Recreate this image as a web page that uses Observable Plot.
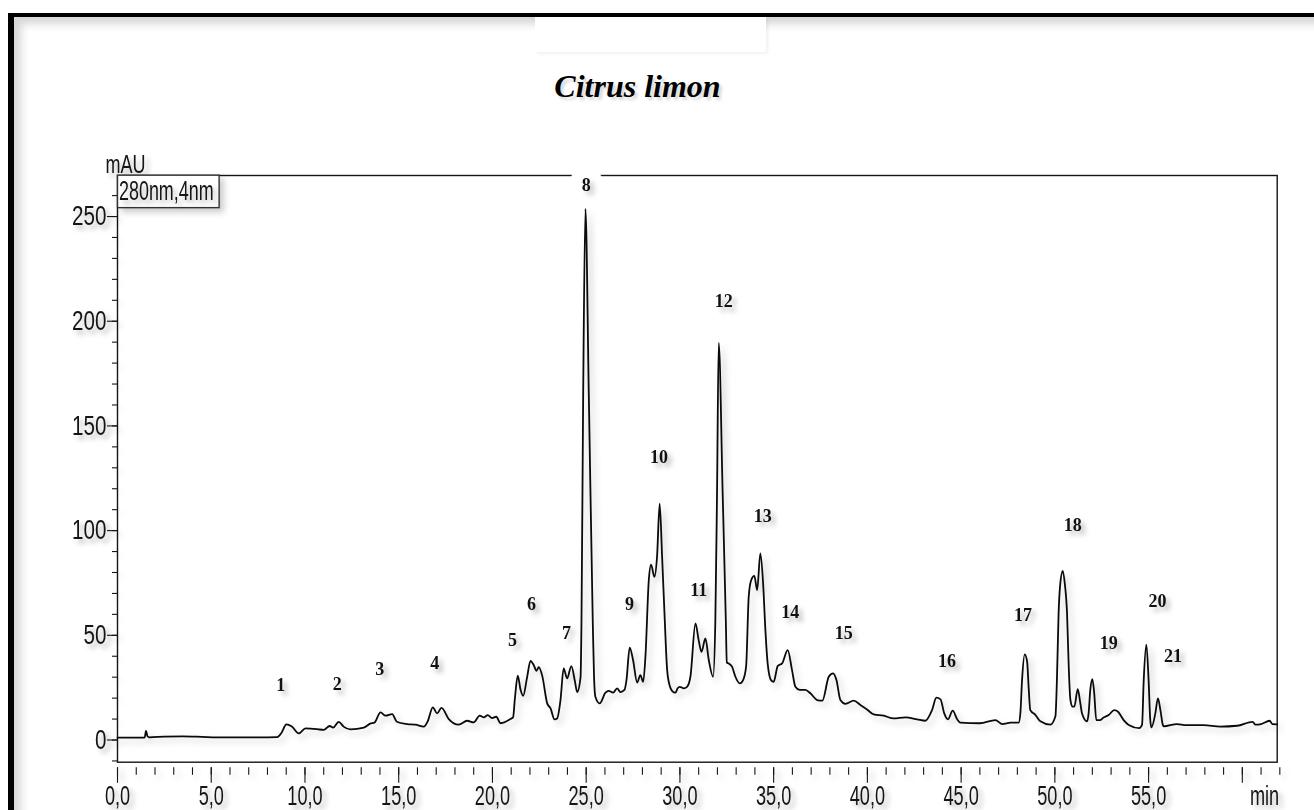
<!DOCTYPE html>
<html><head><meta charset="utf-8">
<script src="https://cdn.jsdelivr.net/npm/d3@7"></script>
<script src="https://cdn.jsdelivr.net/npm/@observablehq/plot@0.6"></script>
<style>
body{margin:0;background:#fff;width:1314px;height:810px;overflow:hidden;position:relative;}
#border{position:absolute;left:8px;top:13px;width:1400px;height:900px;border-left:6px solid #000;border-top:4px solid #000;box-shadow:inset 7px 7px 9px rgba(0,0,0,0.16);}
#patch{position:absolute;left:535px;top:17px;width:231px;height:35px;background:#fff;box-shadow:2px 2px 3px rgba(0,0,0,0.06);}
#title{position:absolute;left:0;top:70px;width:1275px;text-align:center;font:italic bold 32px "Liberation Serif","Times New Roman",serif;line-height:1;color:#000;text-shadow:3px 3px 3px rgba(0,0,0,0.15);}
#chart{position:absolute;left:0;top:0;}
</style></head><body>
<div id="border"></div><div id="patch"></div>
<div id="title">Citrus limon</div>
<div id="chart"></div>
<script>
// retention time (min) and absorbance (mAU)
const time = [0,1.45,1.52,1.6,1.7,2.5,3.5,4.5,5.3,6.5,7.5,8.52,8.75,9.01,9.3,9.67,10.03,10.65,11.0,11.32,11.5,11.8,12.06,12.43,13.14,13.5,13.7,14.03,14.3,14.65,14.9,15.45,15.9,16.34,16.55,16.82,17.05,17.28,17.67,18.2,18.65,19.0,19.32,19.54,19.75,19.98,20.2,20.44,20.96,21.1,21.2,21.35,21.5,21.64,21.85,22.03,22.2,22.35,22.47,22.66,22.92,23.1,23.31,23.45,23.63,23.8,23.98,24.21,24.4,24.52,24.7,24.75,24.84,24.96,25.14,25.35,25.42,25.49,25.72,26.03,26.2,26.44,26.65,26.83,27.04,27.15,27.32,27.5,27.72,27.89,28.04,28.16,28.34,28.46,28.64,28.78,28.92,29.05,29.17,29.32,29.46,29.58,29.76,29.88,29.99,30.2,30.38,30.56,30.83,31.0,31.15,31.36,31.54,31.77,31.89,31.98,32.07,32.28,32.45,32.5,32.6,32.78,32.96,33.19,33.37,33.53,33.67,33.8,33.97,34.12,34.29,34.44,34.56,34.68,34.86,35.0,35.22,35.45,35.75,35.98,36.16,36.39,36.69,36.96,37.32,37.6,37.94,38.17,38.35,38.56,38.83,39.27,39.63,39.98,40.34,40.87,41.4,42.03,42.65,43.09,43.45,43.68,43.9,44.1,44.3,44.55,44.79,44.96,46.0,46.83,47.2,47.64,48.07,48.16,48.25,48.39,48.52,48.6,48.69,48.96,49.23,49.76,50.03,50.11,50.2,50.29,50.42,50.53,50.65,50.74,50.83,50.95,51.04,51.22,51.36,51.45,51.72,51.8,51.89,52.0,52.1,52.21,52.42,52.6,52.87,53.17,53.37,53.67,53.94,54.5,54.65,54.74,54.88,55.0,55.09,55.15,55.36,55.5,55.63,55.76,55.8,56.52,57.0,57.94,58.82,59.72,60.55,60.7,61.0,61.46,61.6,61.86];
const absorbance = [1.1,1.2,4.4,1.8,1.3,1.6,1.7,1.5,1.3,1.3,1.3,1.4,3.5,7.5,6.4,3.2,5.6,5.2,4.8,6.7,5.9,8.7,6.4,5.1,5.9,7.9,8.3,13.2,11.6,12.4,8.7,7.6,7.3,6.4,9,15.6,12.7,15.3,10,7.3,9.2,8.4,11.6,10.8,11.9,10.5,11.1,8.0,10,10.8,20,30.7,24,21.1,30,37.8,35.8,33,34.8,30.5,17.5,15.1,9.9,10.3,19.1,34.2,29.4,35.3,28,22.9,30,57,165,253.7,165,57,30,20.7,17.5,22.6,23.5,22.6,24.7,22.9,23.9,28.6,44.1,38.2,27.4,31,27.8,39.7,76.3,83.8,77.9,87.5,112.9,87.5,62,33.4,25.8,23.5,22.6,24.7,25.4,24.7,25.4,30.2,55.7,47.7,42.1,48.5,38.2,30.2,57,118,189.6,117.7,57,37,36.6,35,30.2,27,28.6,35,68.4,76.3,78.4,71.6,89.1,74.4,52.5,36.6,28.6,27.8,35.4,36.6,42.9,33.4,25.4,23.9,23.9,22.3,19.1,18.8,30.2,31.8,28.6,19.1,17.3,18.8,16.7,14.6,12.2,11.6,10.3,10.8,9.9,9.2,14.3,20.2,19.4,12.7,9.9,14,9.9,8.3,8.0,9.5,7.6,8.3,8.3,12.7,28.6,40.9,37.5,25.4,14.3,12,8.9,7.3,11.3,28.6,60.6,74.7,80.8,74.7,60.5,35,19.1,15.9,15.9,24.3,17.5,12.7,8.9,12.7,23.9,29.1,22.3,9.5,9.5,10.7,11.9,14.3,13.5,9.5,7.2,5.7,7.2,28.6,45.6,28.6,9.5,6.0,12.7,19.9,14.3,7.2,6.5,7.6,7.1,7.1,6.4,6.8,8.7,7.3,7.6,9.2,7.6,7.5];

// peak numbers and the positions of their labels
const peakIds = [1,2,3,4,5,6,7,8,9,10,11,12,13,14,15,16,17,18,19,20,21];
const peakTime = [8.71,11.72,13.99,16.92,21.07,22.08,23.95,25.01,27.31,28.89,31.0,32.34,34.42,35.89,38.74,44.25,48.3,50.95,52.87,55.48,56.3];
const peakLabelHeight = [26.2,26.7,33.7,36.6,47.7,64.7,51.2,264.8,64.7,135.2,71.6,209.4,106.9,61.2,50.9,37.8,59.6,102.6,46.4,66.3,40.1];

// axes
const yMajorTicks = [0,50,100,150,200,250];
const yMinorTicks = d3.range(-10, 261, 10);
const xMajorTicks = [0,5,10,15,20,25,30,35,40,45,50,55,60];
const xMinorTicks = d3.range(0, 63, 1);
const xLabelTicks = [0,5,10,15,20,25,30,35,40,45,50,55];
const xTickLabels = ["0,0","5,0","10,0","15,0","20,0","25,0","30,0","35,0","40,0","45,0","50,0","55,0"];
const unitLabel = "mAU";
const signalLabel = "280nm,4nm";
const timeUnit = "min";

const data = time.map((t, i) => ({t, v: absorbance[i]}));
const peaks = peakIds.map((id, i) => ({id, t: peakTime[i], v: peakLabelHeight[i]}));
const sans = "'Liberation Sans', Arial, sans-serif";
const serif = "'Liberation Serif', 'Times New Roman', serif";
const ink = "#151515";

const plot = Plot.plot({
  width: 1314, height: 810,
  marginLeft: 117, marginRight: 37.3, marginTop: 175, marginBottom: 48.3,
  x: {domain: [0, 61.86], label: null},
  y: {domain: [-10.6, 269.6], label: null},
  style: {background: "transparent", overflow: "visible", fontFamily: sans, color: ink},
  marks: [
    Plot.frame({stroke: ink, strokeWidth: 1.4}),
    Plot.axisY(yMinorTicks, {tickSize: 5, tickFormat: () => "", label: null, stroke: ink, strokeWidth: 1.1}),
    Plot.axisY(yMajorTicks, {tickSize: 10, tickPadding: 1, tickFormat: d => String(d), label: null, fontSize: 27.5, stroke: ink, strokeWidth: 1.1, fill: ink}),
    Plot.axisX(xMinorTicks, {tickSize: 7.5, dy: 5.6, tickFormat: () => "", label: null, stroke: ink, strokeWidth: 1.1}),
    Plot.axisX(xMajorTicks, {tickSize: 15.5, dy: 5.6, tickFormat: () => "", label: null, stroke: ink, strokeWidth: 1.1}),
    Plot.axisX(xLabelTicks, {tickSize: 0, tickPadding: 23, tickFormat: d => xTickLabels[xLabelTicks.indexOf(d)], label: null, fontSize: 27.5, fill: ink}),
    Plot.text([timeUnit], {text: d => d, frameAnchor: "bottom-right", dx: 2, dy: 42.5, textAnchor: "end", lineAnchor: "bottom", fontSize: 27.5, fill: ink}),
    Plot.text(peaks.filter(d => d.id === 8), {x: "t", y: "v", text: d => String(d.id), fontFamily: serif, fontWeight: "bold", fontSize: 18, fill: "white", stroke: "white", strokeWidth: 24}),
    Plot.line(data, {x: "t", y: "v", curve: "monotone-x", stroke: "#0a0a0a", strokeWidth: 1.8}),
    Plot.text(peaks, {x: "t", y: "v", text: d => String(d.id), fontFamily: serif, fontWeight: "bold", fontSize: 18, fill: "#111"}),
    Plot.text([unitLabel], {text: d => d, frameAnchor: "top-left", dx: -12, dy: -3, textAnchor: "start", lineAnchor: "bottom", fontSize: 26.5, fill: ink}),
    Plot.text([signalLabel], {text: d => d, frameAnchor: "top-left", dx: 1.5, dy: 4.5, textAnchor: "start", lineAnchor: "top", fontSize: 28, fill: ink})
  ]
});
document.getElementById("chart").appendChild(plot);

const svg = d3.select(plot);
function squeeze(sel, k) {
  sel.each(function () {
    let tr = this.getAttribute("transform");
    if (!tr) {
      const x = +(this.getAttribute("x") || 0), y = +(this.getAttribute("y") || 0);
      this.removeAttribute("x"); this.removeAttribute("y");
      tr = `translate(${x},${y})`;
    }
    this.setAttribute("transform", tr + ` scale(${k},1)`);
  });
}
const byText = s => svg.selectAll("text").filter(function () { return this.textContent === s; });
squeeze(svg.selectAll('g[aria-label="y-axis tick label"] text'), 0.75);
squeeze(svg.selectAll('g[aria-label="x-axis tick label"] text'), 0.66);
squeeze(byText(timeUnit), 0.66);
squeeze(byText(unitLabel), 0.68);
squeeze(byText(signalLabel), 0.64);

// box around the wavelength label
const wt = byText(signalLabel).node();
if (wt) {
  const sr = plot.getBoundingClientRect();
  const b = wt.getBoundingClientRect();
  const grp = wt.parentNode;
  const g = document.createElementNS("http://www.w3.org/2000/svg", "g");
  grp.parentNode.insertBefore(g, grp);
  d3.select(g).append("rect")
    .attr("x", b.left - sr.left - 1.5).attr("y", b.top - sr.top + 0.3)
    .attr("width", b.width + 7).attr("height", b.height + 1.5)
    .attr("fill", "white").attr("stroke", "#333").attr("stroke-width", 1.4);
}

// soft drop shadows like the reference
svg.selectAll(":scope > g").each(function () {
  if (this.getAttribute("stroke") === "white") return;
  const isText = this.querySelector("text") && !this.querySelector("path, line");
  this.style.filter = isText ? "drop-shadow(4px 4px 2.5px rgba(0,0,0,0.28))" : "drop-shadow(4px 4px 3px rgba(0,0,0,0.2))";
});
</script>
</body></html>
